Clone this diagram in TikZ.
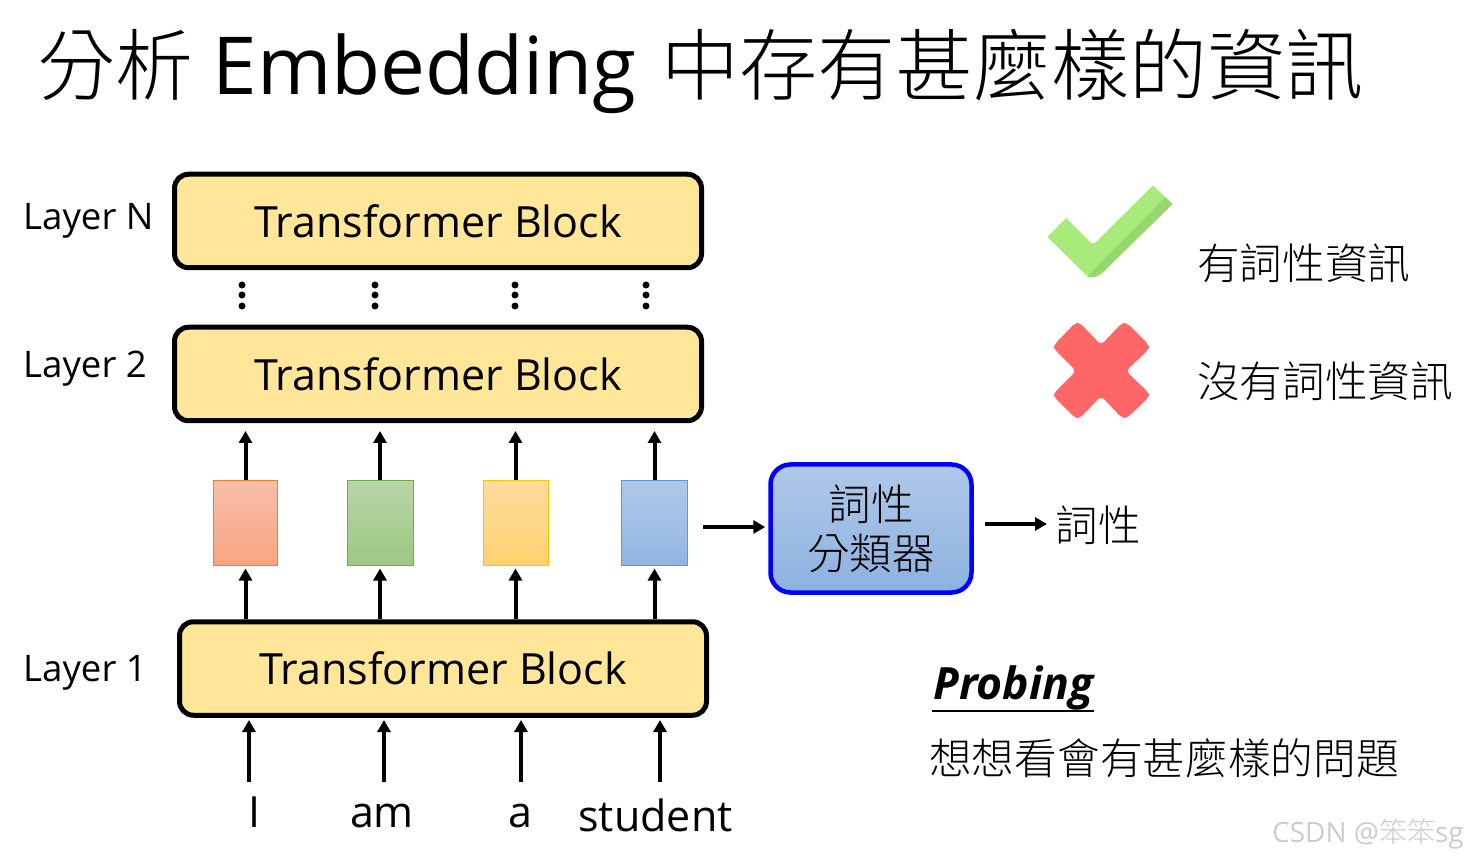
\documentclass[tikz,border=0pt]{standalone}
\usepackage{fontspec}
\setmainfont{Open Sans}
\newfontfamily\cjk{Noto Sans CJK TC Light}
\usetikzlibrary{arrows.meta}
\definecolor{blockfill}{HTML}{FFE699}
\definecolor{redE}{HTML}{ED7D31}\definecolor{redT}{HTML}{F7BEA8}\definecolor{redB}{HTML}{F7A582}
\definecolor{grnE}{HTML}{70AD47}\definecolor{grnT}{HTML}{B7D6A7}\definecolor{grnB}{HTML}{9DC882}
\definecolor{yelE}{HTML}{FFC000}\definecolor{yelT}{HTML}{FFDB9E}\definecolor{yelB}{HTML}{FFD26E}
\definecolor{bluE}{HTML}{5B9BD5}\definecolor{bluT}{HTML}{B0C8E8}\definecolor{bluB}{HTML}{91B6E2}
\definecolor{clfB}{HTML}{8CB2E0}\definecolor{pure}{HTML}{0000FF}
\definecolor{chk}{HTML}{A8EB7A}\definecolor{chkD}{HTML}{96D86E}\definecolor{crs}{HTML}{FF6666}
\tikzset{
 tblock/.style={draw=black,line width=5pt,rounded corners=14pt,fill=blockfill,minimum width=527pt,minimum height=93.5pt,font=\fontsize{43}{43}\selectfont,inner sep=0pt},
 layerlab/.style={font=\fontsize{36.6}{36.6}\selectfont,anchor=west,inner sep=0pt},
 vecbox/.style n args={3}{draw=#1,top color=#2,bottom color=#3,line width=1pt,minimum width=64pt,minimum height=85pt,inner sep=0pt},
 arr/.style={draw=black,line width=4pt,-{Triangle[length=12pt,width=13pt]}},
 dot/.style={circle,fill=black,minimum size=7pt,inner sep=0pt},
 cjklab/.style={font=\cjk\fontsize{42.6}{42.6}\selectfont,anchor=west,inner sep=0pt},
 wordlab/.style={font=\fontsize{43}{43}\selectfont,inner sep=0pt,anchor=base},
 titlelab/.style={anchor=base west,inner sep=0pt,font=\fontsize{80}{80}\selectfont},
 titlecjk/.style={anchor=base west,inner sep=0pt,font=\cjk\fontsize{78}{78}\selectfont},
}
\begin{document}
\begin{tikzpicture}[x=1pt,y=-1pt]
\useasboundingbox (0,0) rectangle (1468,858);
\node[titlecjk] (title1) at (37,95) {分析};
\node[titlelab] (title2) at (212.5,95) {Embedding};
\node[titlecjk] (title3) at (661,95) {中存有甚麼樣的資訊};
\node[tblock] (LN) at (438,221) {Transformer Block};
\node[tblock] (L2) at (438,374) {Transformer Block};
\node[tblock] (L1) at (443,668.5) {Transformer Block};
\node[layerlab] (labN) at (23,221) {Layer N};
\node[layerlab] (lab2) at (23,369) {Layer 2};
\node[layerlab] (lab1) at (23,673) {Layer 1};
\foreach \x/\n in {242/a,375/b,515/c,646/d}{
 \node[dot] (\n1) at (\x,285) {};
 \node[dot] (\n2) at (\x,295) {};
 \node[dot] (\n3) at (\x,306) {};
}
\node[vecbox={redE}{redT}{redB}] (v1) at (245.5,523) {};
\node[vecbox={grnE}{grnT}{grnB},minimum width=66pt] (v2) at (380,523) {};
\node[vecbox={yelE}{yelT}{yelB},minimum width=65pt] (v3) at (515.5,523) {};
\node[vecbox={bluE}{bluT}{bluB},minimum width=66pt] (v4) at (654.5,523) {};
\foreach \n in {1,2,3,4}{
 \draw[arr] (v\n.north) -- (v\n |- 0,431);
 \draw[arr] (v\n |- L1.north) -- (v\n |- 0,568.5);
}
\coordinate (s1) at (249,782);\coordinate (s2) at (384,782);\coordinate (s3) at (521,782);\coordinate (s4) at (660,782);
\foreach \n in {1,2,3,4}{
 \draw[arr] (s\n) -- (s\n |- 0,720);
}
\node[wordlab] (w1) at (254,827) {I};
\node[wordlab] (w2) at (382,827) {am};
\node[wordlab] (w3) at (520.5,827) {a};
\node[wordlab] (w4) at (655.5,831) {student};
\node[draw=pure,line width=4.5pt,rounded corners=20pt,minimum width=201pt,minimum height=128pt,top color=bluT,bottom color=clfB,align=center,inner sep=0pt,font=\cjk\fontsize{42.6}{49}\selectfont] (clf) at (871,528.5) {詞性\\分類器};
\coordinate (a1) at (703,527);
\coordinate (a2) at (985,524);
\coordinate (a3) at (1047,524);
\draw[arr,shorten >=3pt] (a1) -- (clf.west |- a1);
\draw[arr] (a2) -- (a3);
\node[cjklab] (pos) at (1055.5,525) {詞性};
\fill[chk] (1047.5,237) -- (1066,218) -- (1090,242) .. controls (1092,244) and (1094,244) .. (1096,242) -- (1153,185.5) -- (1172.5,204) -- (1104,271) .. controls (1097,279) and (1088,279) .. (1082,271) -- cycle;
\fill[chkD] (1165,197.5) -- (1172.5,204) -- (1104,271) .. controls (1099,277) and (1092,278) .. (1087,277) -- cycle;
\fill[crs,rounded corners=4pt] (1101,345) -- (1122,323) -- (1127,323) -- (1149,345) -- (1149,349) -- (1126,371) -- (1149,393) -- (1149,397) -- (1127,418) -- (1122,418) -- (1101,396) -- (1080,418) -- (1075,418) -- (1054,397) -- (1054,393) -- (1076,371) -- (1054,349) -- (1054,345) -- (1075,323) -- (1080,323) -- cycle;
\node[cjklab] (has) at (1197,263) {有詞性資訊};
\node[cjklab] (hasnot) at (1197,381) {沒有詞性資訊};
\node[anchor=base west,inner sep=0pt,font=\fontsize{44.5}{44.5}\selectfont\bfseries\itshape] (prob) at (933,699) {Probing};
\draw[line width=1.5pt] (932,711) -- (1094,711);
\node[cjklab,font=\cjk\fontsize{42.7}{42.7}\selectfont] (q) at (929,758) {想想看會有甚麼樣的問題};
\node[anchor=base east,inner sep=0pt,text=black!20,font=\fontsize{28}{28}\selectfont] (wm) at (1464,842) {CSDN @{\cjk 笨笨}sg};
\end{tikzpicture}
\end{document}
